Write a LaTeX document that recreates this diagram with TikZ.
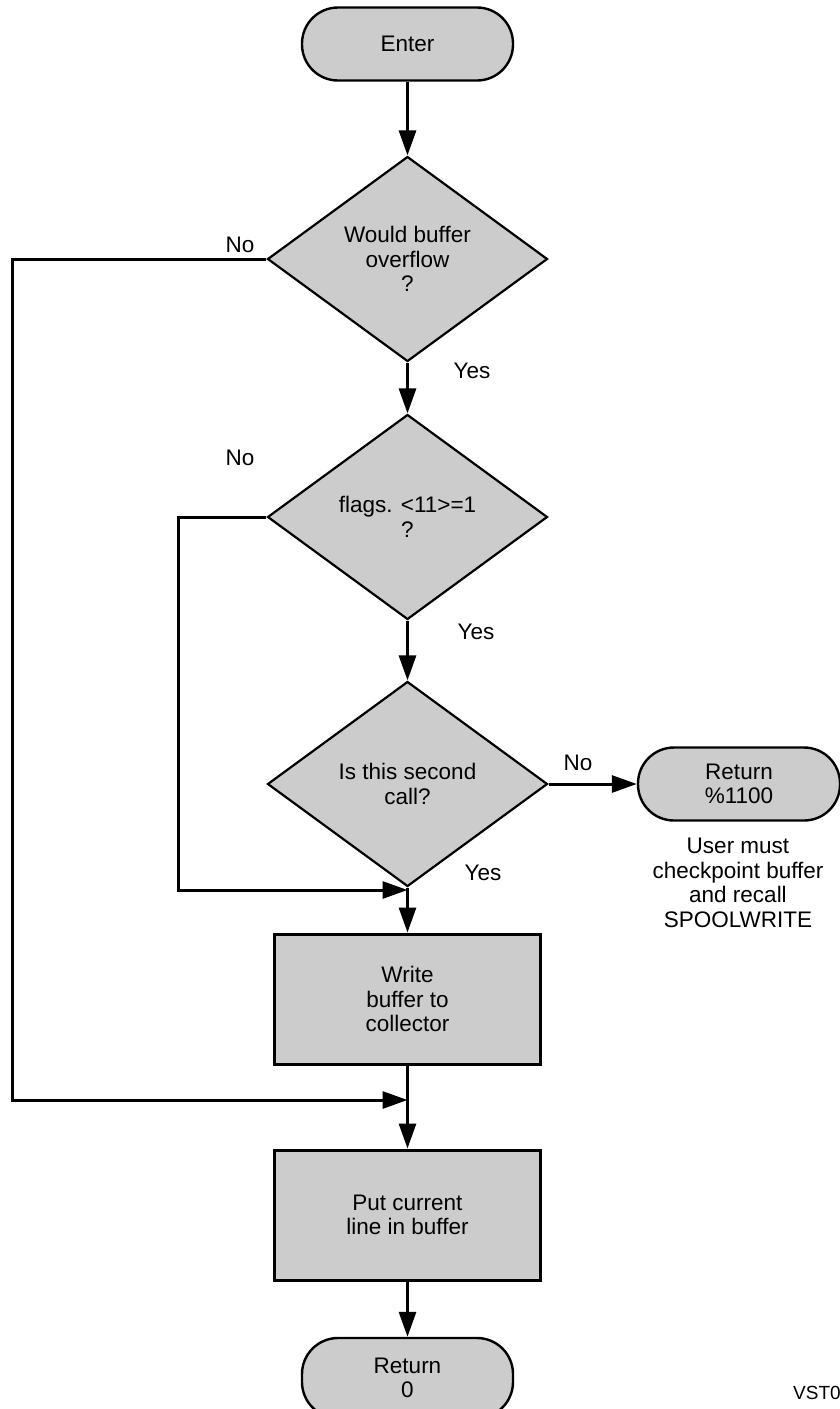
\documentclass[tikz,border=0pt]{standalone}
\usepackage{fontspec}
\setmainfont{Liberation Sans}
\usetikzlibrary{shapes.geometric,arrows.meta}
\definecolor{boxgray}{HTML}{CCCCCC}
\tikzset{
  base/.style={font=\fontsize{22.5}{24.5}\selectfont, align=center, inner sep=0pt},
  term/.style={base, draw, fill=boxgray, line width=2.4pt, rounded corners=36pt, minimum height=73pt},
  decide/.style={base, draw, fill=boxgray, line width=2.2pt, diamond, minimum width=280pt, minimum height=205pt},
  proc/.style={base, draw, fill=boxgray, line width=3pt, rectangle, minimum width=266pt, minimum height=130pt},
  lbl/.style={base},
  conn/.style={line width=3pt, -{Triangle[length=25pt,width=17pt]}},
}
\begin{document}
\begin{tikzpicture}[x=1pt,y=-1pt]
\useasboundingbox (0,0) rectangle (840,1409);
\clip (0,0) rectangle (840,1409);
\node[term, minimum width=211pt] (enter) at (407.5,44) {Enter};
\node[decide] (d1) at (407.5,259) {Would buffer\\overflow\\?};
\node[decide] (d2) at (407.5,517) {flags. <11>=1\\?};
\node[decide] (d3) at (407.5,784) {Is this second\\call?};
\node[term, minimum width=202pt] (ret1) at (739,784) {Return\\\%1100};
\node[proc] (write) at (407.5,999) {Write\\buffer to\\collector};
\node[proc] (put) at (407.5,1215) {Put current\\line in buffer};
\node[term, minimum width=211pt, minimum height=80pt] (ret0) at (407.5,1378) {Return\\0};

\node[lbl] (no1) at (240,245) {No};
\node[lbl] (yes1) at (472,371) {Yes};
\node[lbl] (no2) at (240,458) {No};
\node[lbl] (yes2) at (476,632) {Yes};
\node[lbl] (no3) at (578,763) {No};
\node[lbl] (yes3) at (483,873) {Yes};
\node[lbl] (note) at (738,883) {User must\\checkpoint buffer\\and recall\\SPOOLWRITE};
\node[base, font=\fontsize{19}{21}\selectfont, anchor=west] (vst) at (793,1393) {VST0};

\coordinate (j1) at (407.5,890);
\coordinate (j2) at (407.5,1100);

\draw[conn] (enter) -- (d1);
\draw[conn] (d1) -- (d2);
\draw[conn] (d2) -- (d3);
\draw[conn] (d3.east) -- (ret1.west);
\draw[conn] (d3) -- (write);
\draw[conn] (write) -- (put);
\draw[conn] (put) -- (ret0);
\draw[conn] (d1.west) -- (12,259) |- (j2);
\draw[conn] (d2.west) -- (178,517) |- (j1);
\end{tikzpicture}
\end{document}
